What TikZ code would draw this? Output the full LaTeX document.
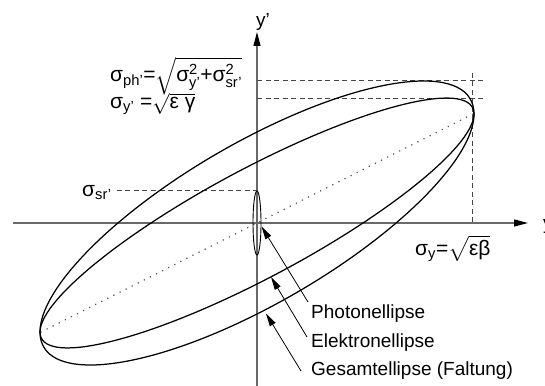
\documentclass[tikz,border=0pt]{standalone}
\usepackage{amsmath}
\usepackage{fontspec}
\setmainfont{Liberation Sans}
\usetikzlibrary{arrows.meta}
\definecolor{axisgray}{RGB}{105,105,105}
\definecolor{dashgray}{RGB}{70,70,70}
\definecolor{dotgray}{RGB}{80,80,80}
\begin{document}
\begin{tikzpicture}[x=1pt,y=1pt,
  axisline/.style={draw=axisgray, line width=1.3pt, -{Triangle[length=14pt,width=7pt,color=black]}},
  ell/.style={draw=black, line width=1.25pt},
  guide/.style={draw=dashgray, line width=1pt, dash pattern=on 5pt off 3.5pt},
  diag/.style={draw=dotgray, line width=1.7pt, dash pattern=on 0.01pt off 6.8pt, line cap=round},
  pointer/.style={draw=black, line width=0.8pt, -{Triangle[length=13pt,width=6.5pt]}},
  lbl/.style={inner sep=0pt, font=\fontsize{19}{22}\selectfont, anchor=base west},
  fml/.style={inner sep=0pt, font=\fontsize{21}{25}\selectfont, anchor=base west},
]
\useasboundingbox (-257,-162) rectangle (288,223);

% axes
\coordinate (xs) at (-244,0);
\coordinate (xe) at (271,0);
\coordinate (ys) at (0,-165);
\coordinate (ye) at (0,191);
\draw[axisline] (xs) -- (xe);
\draw[axisline] (ys) -- (ye);
\node[lbl] (ylab) at (286,-7) {y};
\node[lbl] (yplab) at (-1,196) {y'};

% guide lines
\coordinate (gO1) at (0,142);
\coordinate (gE1) at (226,142);
\coordinate (gO2) at (0,124.6);
\coordinate (gE2) at (226,124.6);
\coordinate (gV1) at (215,150);
\coordinate (gV2) at (215,0);
\coordinate (gS1) at (-140,32);
\coordinate (gS2) at (0,32);
\draw[guide] (gO1) -- (gE1);
\draw[guide] (gO2) -- (gE2);
\draw[guide] (gV1) -- (gV2);
\draw[guide] (gS1) -- (gS2);

% diagonal
\coordinate (dL) at (-216,-109);
\coordinate (dR) at (216,109);
\draw[diag] (dL) -- (dR);

% ellipses
\draw[ell, cm={217,109,0,61,(0,0)}] (0,0) circle[radius=1];
\draw[ell, cm={217,109,0,91,(0,0)}] (0,0) circle[radius=1];
\draw[ell, line width=0.9pt] (0,0) ellipse[x radius=4, y radius=32];

% formulas
\node[fml] (fph) at (-147,141.5) {\smash[b]{$\text{σ}_{\text{ph’}}\text{=}\sqrt{\text{σ}^{\text{2}}_{\text{y’}}\text{+}\text{σ}^{\text{2}}_{\text{sr’}}}$}};
\node[fml] (fy) at (-147,114.5) {\smash[t]{$\text{σ}_{\text{y’}}\text{ =}\sqrt{\text{ε γ}}$}};
\node[fml] (fsr) at (-175,26.3) {$\text{σ}_{\text{sr’}}$};
\node[fml] (fyy) at (158,-32) {$\text{σ}_{\text{y}}\text{=}\sqrt{\text{εβ}}$};

% labels
\node[lbl] (lph) at (54,-95.3) {Photonellipse};
\node[lbl] (lel) at (54,-124.7) {Elektronellipse};
\node[lbl] (lge) at (54,-152) {Gesamtellipse (Faltung)};

% pointers
\coordinate (tph) at (51,-79);
\coordinate (hph) at (4.5,-3.5);
\coordinate (tel) at (50,-114);
\coordinate (hel) at (14,-54);
\coordinate (tge) at (44,-148);
\coordinate (hge) at (9,-90.5);
\draw[pointer] (tph) -- (hph);
\draw[pointer] (tel) -- (hel);
\draw[pointer] (tge) -- (hge);
\end{tikzpicture}
\end{document}
